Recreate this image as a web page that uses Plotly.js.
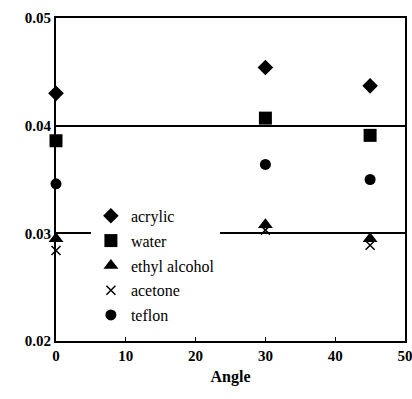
<!DOCTYPE html>
<html><head><meta charset="utf-8">
<script src="https://cdn.plot.ly/plotly-3.0.1.min.js"></script>
<style>html,body{margin:0;padding:0;background:#fff}#plot{width:412px;height:399px}</style>
</head><body><div id="plot"></div>
<script>
const angles = [0, 30, 45];
const acrylic = [0.0430, 0.0454, 0.0437];
const water = [0.0386, 0.0407, 0.0391];
const ethylAlcohol = [0.0295, 0.0308, 0.0295];
const acetone = [0.0284, 0.0303, 0.0289];
const teflon = [0.0346, 0.0364, 0.0350];
const seriesNames = ['acrylic', 'water', 'ethyl alcohol', 'acetone', 'teflon'];

const styles = [
  {symbol: 'diamond', size: 12},
  {symbol: 'square', size: 13},
  {symbol: 'triangle-up', size: 13},
  {symbol: 'x-thin-open', size: 9, line: {color: '#000', width: 1.5}},
  {symbol: 'circle', size: 11}
];
const series = [acrylic, water, ethylAlcohol, acetone, teflon];
const traces = series.map((ys, i) => ({
  x: angles, y: ys, name: seriesNames[i], type: 'scatter', mode: 'markers',
  legendgroup: 'g' + i, cliponaxis: false,
  marker: Object.assign({color: '#000'}, styles[i])
}));

const FAM = '"Times New Roman", "Liberation Serif", serif';
const layout = {
  width: 412, height: 399,
  margin: {l: 56, r: 7, t: 18, b: 58},
  paper_bgcolor: '#fff', plot_bgcolor: '#fff',
  font: {family: FAM, size: 15, color: '#000'},
  showlegend: true,
  legend: {x: 0.1, y: 0.44, xanchor: 'left', yanchor: 'top', bgcolor: '#fff',
    font: {family: FAM, size: 16, color: '#000'}, tracegroupgap: 1, itemwidth: 30},
  xaxis: {range: [0, 50], dtick: 10, showline: true, mirror: true, linecolor: '#000', linewidth: 2,
    ticks: 'inside', ticklen: 4, tickcolor: '#000', showgrid: false, zeroline: false,
    ticklabeloverflow: 'allow',
    tickfont: {family: FAM, size: 15, weight: 'bold', color: '#000'},
    title: {text: 'Angle', font: {family: FAM, size: 16, weight: 'bold', color: '#000'}, standoff: 8}},
  yaxis: {range: [0.02, 0.05], dtick: 0.01, tickformat: '.2f', showline: true, mirror: true,
    linecolor: '#000', linewidth: 2, ticks: '', showgrid: true, gridcolor: '#000', gridwidth: 2,
    zeroline: false, tickfont: {family: FAM, size: 15, weight: 'bold', color: '#000'}}
};
Plotly.newPlot('plot', traces, layout, {displayModeBar: false, staticPlot: true});
</script></body></html>
